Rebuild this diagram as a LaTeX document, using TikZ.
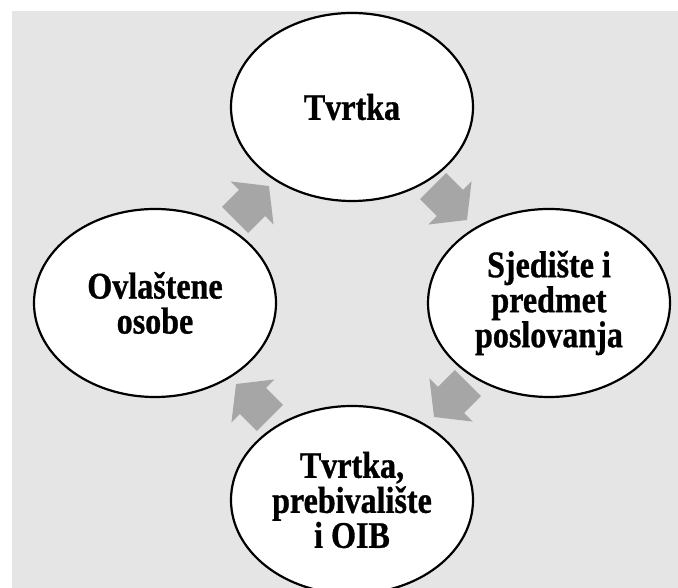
\documentclass[tikz,border=0pt]{standalone}
\usepackage{fontspec}
\setmainfont{Liberation Serif}
\newfontfamily\diagfont[FakeStretch=0.855,FakeBold=0.8]{Liberation Serif Bold}
\usetikzlibrary{shapes.geometric}
\definecolor{bggray}{HTML}{E5E5E5}
\definecolor{arrowgray}{HTML}{A6A6A6}
\tikzset{
  stage/.style={ellipse, draw=black, line width=2.2pt, fill=white,
    minimum width=242pt, minimum height=188pt, inner sep=0pt,
    align=center, font=\diagfont\fontsize{37.5}{35}\selectfont},
  cyclearrow/.pic={
    \fill[arrowgray] (-24,-18.5) -- (0,-18.5) -- (0,-30.5) -- (24,0)
      -- (0,30.5) -- (0,18.5) -- (-24,18.5) -- cycle;
  }
}
\begin{document}
\begin{tikzpicture}[x=1pt,y=1pt]
\useasboundingbox (0,0) rectangle (678,588);
\clip (0,0) rectangle (678,588);
\fill[bggray] (12,0) rectangle (678,577);
\node[stage] (nTop) at (352,481) {Tvrtka};
\node[stage] (nRight) at (549,285) {Sjedište i\\predmet\\poslovanja};
\node[stage] (nBottom) at (352,88) {Tvrtka,\\prebivalište\\i OIB};
\node[stage] (nLeft) at (155,285) {Ovlaštene\\osobe};
\pic[rotate=45] at (252,385) {cyclearrow};
\pic[rotate=-45] at (450,385) {cyclearrow};
\pic[rotate=-135] at (451,188) {cyclearrow};
\pic[rotate=135] at (253,187) {cyclearrow};
\end{tikzpicture}
\end{document}
